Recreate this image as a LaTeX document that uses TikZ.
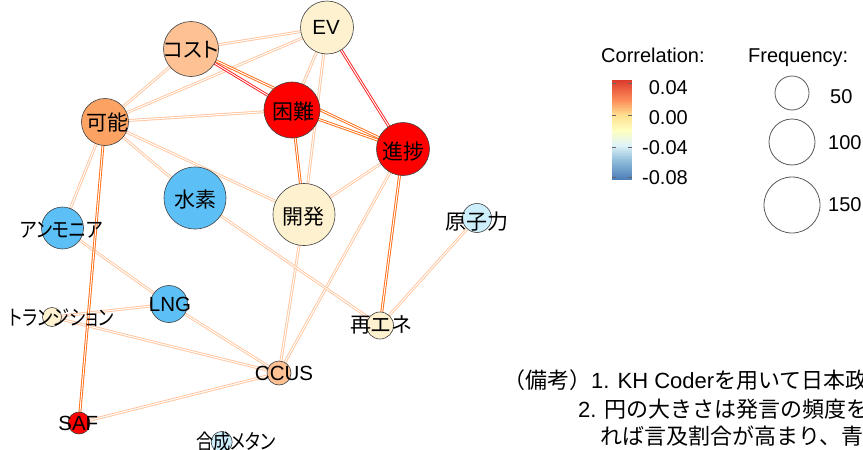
\documentclass[tikz,border=0pt]{standalone}
\usepackage{graphicx}
\usepackage{fontspec}
\setmainfont{Liberation Sans}
\newfontfamily\jp[RawFeature=+palt]{Noto Sans CJK JP}
\newfontfamily\jpn{Noto Sans CJK JP}
\definecolor{eLight}{HTML}{FFC49C}
\definecolor{eOrange}{HTML}{FF6A10}
\definecolor{eRed}{HTML}{FF1A1A}
\definecolor{cPeach}{HTML}{FDC194}
\definecolor{cCream}{HTML}{FEF1CF}
\definecolor{cOrange}{HTML}{FCA263}
\definecolor{cRed}{HTML}{FF0000}
\definecolor{cBlue}{HTML}{5CBFF6}
\definecolor{cLBlue}{HTML}{CDEFFB}
\definecolor{sh1}{HTML}{4A7BB7}
\definecolor{sh2}{HTML}{91BFDB}
\definecolor{sh3}{HTML}{E0F3F8}
\definecolor{sh4}{HTML}{FFFFBF}
\definecolor{sh5}{HTML}{FEE090}
\definecolor{sh6}{HTML}{FC8D59}
\definecolor{sh7}{HTML}{DC3B2C}
\pgfdeclarelayer{bg}
\pgfsetlayers{bg,main}
\tikzset{
  vtx/.style={circle, draw=black!75, line width=0.6pt, inner sep=0pt, minimum size=#1},
  lbl/.style={font=\fontsize{20.5}{22}\selectfont, inner sep=0pt, anchor=base, yshift=-7.4pt},
  jlbl/.style={font=\jp\fontsize{21}{22}\selectfont, inner sep=0pt, anchor=base, yshift=-7.6pt},
  eL/.style={draw=eLight, line width=0.9pt, double=white, double distance=1.0pt},
  eO/.style={draw=eOrange, line width=0.9pt, double=white, double distance=1.0pt},
  eR/.style={draw=eRed, line width=0.9pt, double=white, double distance=1.0pt},
  leg/.style={font=\fontsize{20}{22}\selectfont, inner sep=0pt, yshift=-7.2pt},
  fcirc/.style={circle, draw=black!65, line width=0.8pt, inner sep=0pt, minimum size=#1},
  note/.style={inner sep=0pt, anchor=base west, font=\fontsize{22}{24}\selectfont},
  tick/.style={draw=black!60, line width=1pt}
}
\begin{document}
\begin{tikzpicture}[x=1pt, y=-1pt]
\useasboundingbox (0,0) rectangle (863,450);
% vertices
\node[vtx=55pt, fill=cPeach] (kost) at (191,49) {};
\node[vtx=53pt, fill=cCream] (ev) at (327,27.5) {};
\node[vtx=47pt, fill=cOrange] (kano) at (105,122) {};
\node[vtx=56pt, fill=cRed] (konnan) at (292,110) {};
\node[vtx=53pt, fill=cRed] (shin) at (403,149) {};
\node[vtx=62pt, fill=cBlue] (suiso) at (195,198) {};
\node[vtx=62pt, fill=cCream] (kai) at (304,214.5) {};
\node[vtx=29pt, fill=cLBlue] (gen) at (477,218) {};
\node[vtx=42pt, fill=cBlue] (amm) at (62.5,228) {};
\node[vtx=37pt, fill=cBlue] (lng) at (169,304) {};
\node[vtx=19pt, fill=cCream] (trans) at (52,317) {};
\node[vtx=27pt, fill=cCream] (saiene) at (380,325.5) {};
\node[vtx=24pt, fill=cPeach] (ccus) at (279,373) {};
\node[vtx=22pt, fill=cRed] (saf) at (79,423) {};
\node[vtx=21pt, fill=cLBlue] (gosei) at (221.7,442) {};
% edges
\begin{pgfonlayer}{bg}
\draw[eL] (kost.center) -- (ev.center);
\draw[eL] (ev.center) -- (kano.center);
\draw[eL] (ev.center) -- (konnan.center);
\draw[eL] (ev.center) -- (kai.center);
\draw[eL] (kano.center) -- (kost.center);
\draw[eL] (kano.center) -- (konnan.center);
\draw[eL] (kano.center) -- (suiso.center);
\draw[eL] (kano.center) -- (kai.center);
\draw[eL] (kano.center) -- (amm.center);
\draw[eL] (shin.center) -- (kai.center);
\draw[eL] (shin.center) -- (ccus.center);
\draw[eL] (kai.center) -- (ccus.center);
\draw[eL] (suiso.center) -- (saiene.center);
\draw[eL] (gen.center) -- (saiene.center);
\draw[eL] (amm.center) -- (lng.center);
\draw[eL] (lng.center) -- (ccus.center);
\draw[eL] (lng.center) -- (trans.center);
\draw[eL] (trans.center) -- (ccus.center);
\draw[eL] (saf.center) -- (ccus.center);
\draw[eO] (kost.center) -- (shin.center);
\draw[eO] (konnan.center) -- (shin.center);
\draw[eO] (konnan.center) -- (kai.center);
\draw[eO] (shin.center) -- (saiene.center);
\draw[eO] (kano.center) -- (saf.center);
\draw[eR] (kost.center) -- (konnan.center);
\draw[eR] (ev.center) -- (shin.center);
\end{pgfonlayer}
% labels
\node[jlbl] (lkost) at (191,50) {コスト};
\node[lbl] (lev) at (326,27) {EV};
\node[jlbl] (lkano) at (107,123) {可能};
\node[jlbl] (lkonnan) at (293,112) {困難};
\node[jlbl] (lshin) at (403,152) {進捗};
\node[jlbl] (lsuiso) at (195,200) {水素};
\node[jlbl] (lkai) at (303,217) {開発};
\node[jlbl] (lgen) at (477,221.7) {原子力};
\node[jlbl] (lamm) at (61.5,230) {\scalebox{0.86}[1]{アンモニア}};
\node[lbl] (llng) at (170,304) {LNG};
\node[jlbl] (ltrans) at (61.5,318) {\scalebox{0.82}[1]{トランジション}};
\node[jlbl] (lsaiene) at (381,325) {再エネ};
\node[lbl] (lccus) at (284,373.3) {CCUS};
\node[lbl] (lsaf) at (78.3,422.7) {SAF};
\node[jlbl] (lgosei) at (236,441.7) {\scalebox{0.82}[1]{合成メタン}};
% legend: correlation
\node[leg, anchor=base west] (corrt) at (601,55) {Correlation:};
\foreach \ya/\yb/\ca/\cb in {80/100/sh7/sh6, 100/115/sh6/sh5, 115/130/sh5/sh4, 130/145/sh4/sh3, 145/160/sh3/sh2, 160/180/sh2/sh1}{
  \foreach \k in {0,...,19}{
    \pgfmathsetmacro\yy{\ya+(\yb-\ya)*\k/20}
    \pgfmathsetmacro\yz{\ya+(\yb-\ya)*(\k+1)/20+0.4}
    \pgfmathtruncatemacro\pc{100-\k*5}
    \fill[\ca!\pc!\cb] (612,\yy) rectangle (632,\yz);
  }
}
\foreach \ty in {83,115,147,177}{
  \draw[tick] (612,\ty) -- (616,\ty);
  \draw[tick] (628,\ty) -- (632,\ty);
}
\node[leg, anchor=base east] (t1) at (688,87) {0.04};
\node[leg, anchor=base east] (t2) at (688,117) {0.00};
\node[leg, anchor=base east] (t3) at (688,147) {-0.04};
\node[leg, anchor=base east] (t4) at (688,177) {-0.08};
% legend: frequency
\node[leg, anchor=base west] (freqt) at (748,55) {Frequency:};
\node[fcirc=34pt] (f50) at (792,93) {};
\node[fcirc=46pt] (f100) at (792,142) {};
\node[fcirc=56pt] (f150) at (792,205) {};
\node[leg, anchor=base west] (l50) at (830,96) {50};
\node[leg, anchor=base west] (l100) at (828,142) {100};
\node[leg, anchor=base west] (l150) at (828,204) {150};
% notes
\begin{scope}
\clip (0,0) rectangle (863,450);
\node[note] (n1) at (503,388) {{\jpn （備考）}1. KH Coder{\jpn を用いて日本政}};
\node[note] (n2) at (578,417.5) {2. {\jpn 円の大きさは発言の頻度を}};
\node[note] (n3) at (600,444.5) {{\jpn れば言及割合が高まり、青}};
\end{scope}
\end{tikzpicture}
\end{document}
